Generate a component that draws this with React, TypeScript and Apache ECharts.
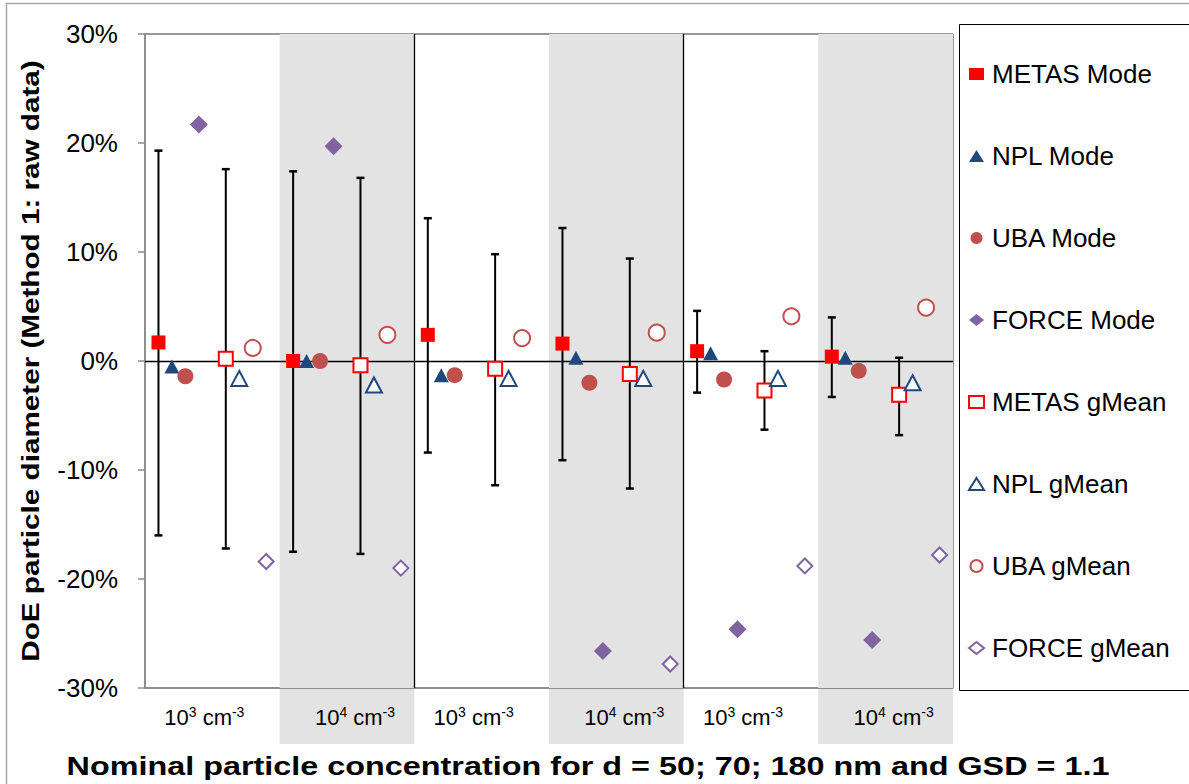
import React, { useEffect, useRef } from 'react';
import * as echarts from 'echarts';

// ---------- data ----------
const categoryExponents = ['3', '4', '3', '4', '3', '4'];
const seriesNames = [
  'METAS Mode', 'NPL Mode', 'UBA Mode', 'FORCE Mode',
  'METAS gMean', 'NPL gMean', 'UBA gMean', 'FORCE gMean',
];
// values in percent, one per category
const metasMode = [1.7, 0.0, 2.4, 1.6, 0.9, 0.4];
const metasModeLow = [-16.0, -17.5, -8.4, -9.1, -2.9, -3.3];
const metasModeHigh = [19.3, 17.4, 13.1, 12.2, 4.6, 4.0];
const nplMode = [-0.5, 0.0, -1.3, 0.3, 0.7, 0.3];
const ubaMode = [-1.4, 0.0, -1.3, -2.0, -1.7, -0.9];
const forceMode = [21.7, 19.7, null, -26.6, -24.6, -25.6];
const metasGMean = [0.2, -0.4, -0.7, -1.2, -2.7, -3.1];
const metasGMeanLow = [-17.2, -17.7, -11.4, -11.7, -6.3, -6.8];
const metasGMeanHigh = [17.6, 16.8, 9.8, 9.4, 0.9, 0.3];
const nplGMean = [-1.6, -2.2, -1.6, -1.6, -1.6, -2.0];
const ubaGMean = [1.2, 2.4, 2.1, 2.6, 4.1, 4.9];
const forceGMean = [-18.4, -19.0, null, -27.8, -18.8, -17.8];

const yMin = -30;
const yMax = 30;
const yInterval = 10;
const slotOffsets = [1, 2, 3, 4, 6, 7, 8, 9];
const categoryWidth = 10;
const groupSeparators = [20, 40];
const shadedBands = [[10, 20], [30, 40], [50, 60]];

const yTitle = 'DoE particle diameter (Method 1: raw data)';
const xTitle = 'Nominal particle concentration for d = 50; 70; 180 nm and GSD = 1.1';

// ---------- helpers ----------
function points(values: (number | null)[], slot: number) {
  const out: number[][] = [];
  values.forEach((v, i) => {
    if (v !== null && v !== undefined) out.push([i * categoryWidth + slotOffsets[slot], v]);
  });
  return out;
}
function bars(low: number[], high: number[], slot: number) {
  return low.map((l, i) => [i * categoryWidth + slotOffsets[slot], l, high[i]]);
}

const RED = '#ff0000';
const BLUE = '#1f497d';
const BROWN = '#c0504d';
const PURPLE = '#8064a2';

const FONT = '"Liberation Sans", Arial, sans-serif';

export default function App() {
  const ref = useRef<HTMLDivElement>(null);
  useEffect(() => {
    if (!ref.current) return;
    const chart = echarts.init(ref.current, undefined, { renderer: 'svg' });

    const filled = (name: string, data: number[][], symbol: string, size: any, color: string) => ({
      type: 'scatter', name, data, symbol, symbolSize: size, z: 5,
      itemStyle: { color, opacity: 1 },
    });
    const open = (name: string, data: number[][], symbol: string, size: any, color: string) => ({
      type: 'scatter', name, data, symbol, symbolSize: size, z: 5,
      itemStyle: { color: '#ffffff', borderColor: color, borderWidth: 2, opacity: 1 },
    });

    const errorRender = (params: any, api: any) => {
      const x = api.value(0);
      const lo = api.coord([x, api.value(1)]);
      const hi = api.coord([x, api.value(2)]);
      const cap = 4;
      const st = { stroke: '#000', lineWidth: 2 };
      return {
        type: 'group',
        children: [
          { type: 'line', shape: { x1: lo[0], y1: lo[1], x2: hi[0], y2: hi[1] }, style: st },
          { type: 'line', shape: { x1: lo[0] - cap, y1: lo[1], x2: lo[0] + cap, y2: lo[1] }, style: { stroke: '#000', lineWidth: 2.5 } },
          { type: 'line', shape: { x1: hi[0] - cap, y1: hi[1], x2: hi[0] + cap, y2: hi[1] }, style: { stroke: '#000', lineWidth: 2.5 } },
        ],
      };
    };

    const option: any = {
      animation: false,
      backgroundColor: '#ffffff',
      grid: {
        left: 145, top: 34, width: 808, height: 654,
        show: true, borderColor: '#333', borderWidth: 1, backgroundColor: 'transparent',
      },
      xAxis: [
        {
          type: 'value', min: 0, max: 60, interval: 10,
          axisLine: { show: true, onZero: false, lineStyle: { color: '#8c8c8c', width: 1.5 } },
          axisTick: { show: false }, axisLabel: { show: false }, splitLine: { show: false },
        },
        {
          type: 'category', position: 'bottom', data: categoryExponents,
          axisLine: { show: false }, axisTick: { show: false }, splitLine: { show: false },
          axisLabel: {
            margin: 17, interval: 0,
            formatter: (e: string, i: number) => {
              const txt = `{b|10}{s|${e}}{b| cm}{s|-3}`;
              return i % 2 === 0 ? `${txt}{p| }` : `{p| }${txt}`;
            },
            rich: {
              b: { fontFamily: FONT, fontSize: 22, color: '#000', lineHeight: 24 },
              s: { fontFamily: FONT, fontSize: 14, color: '#000', verticalAlign: 'top', lineHeight: 24 },
              p: { fontFamily: FONT, fontSize: 14, width: 16, lineHeight: 24 },
            },
          },
        },
      ],
      yAxis: {
        type: 'value', min: yMin, max: yMax, interval: yInterval,
        axisLine: { show: true, lineStyle: { color: '#8c8c8c', width: 1.5 } },
        axisTick: { show: true, inside: false, length: 7, lineStyle: { color: '#8c8c8c', width: 1.5 } },
        splitLine: { show: false },
        axisLabel: {
          margin: 27, formatter: '{value}%', fontFamily: FONT, fontSize: 26, color: '#000',
        },
      },
      legend: {
        orient: 'vertical', left: 968, top: 61, itemGap: 56,
        itemWidth: 15, itemHeight: 12, padding: 0,
        data: seriesNames,
        textStyle: { fontFamily: FONT, fontSize: 26, color: '#000', lineHeight: 26, padding: [0, 0, 0, 3] },
      },
      series: [
        {
          type: 'scatter', name: '_bands', data: [], silent: true, z: 0,
          markArea: {
            silent: true,
            itemStyle: { color: '#e3e3e3' },
            data: shadedBands.map(([a, b]) => [{ xAxis: a }, { xAxis: b }]),
          },
        },
        {
          type: 'scatter', name: '_lines', data: [], silent: true, z: 1,
          markLine: {
            silent: true, symbol: ['none', 'none'], label: { show: false },
            lineStyle: { color: '#000', width: 1.3, type: 'solid' },
            data: [
              ...groupSeparators.map((g) => ({ xAxis: g })),
              { yAxis: 0 },
            ],
          },
        },
        {
          type: 'custom', name: '_errMode', renderItem: errorRender, z: 3,
          data: bars(metasModeLow, metasModeHigh, 0), encode: { x: 0, y: [1, 2] },
        },
        {
          type: 'custom', name: '_errGMean', renderItem: errorRender, z: 3,
          data: bars(metasGMeanLow, metasGMeanHigh, 4), encode: { x: 0, y: [1, 2] },
        },
        filled(seriesNames[0], points(metasMode, 0), 'rect', 14, RED),
        filled(seriesNames[1], points(nplMode, 1), 'triangle', [15, 14], BLUE),
        filled(seriesNames[2], points(ubaMode, 2), 'circle', 16, BROWN),
        filled(seriesNames[3], points(forceMode, 3), 'diamond', [18, 18], PURPLE),
        open(seriesNames[4], points(metasGMean, 4), 'rect', 14, RED),
        open(seriesNames[5], points(nplGMean, 5), 'triangle', [16, 15], BLUE),
        open(seriesNames[6], points(ubaGMean, 6), 'circle', 16, BROWN),
        open(seriesNames[7], points(forceGMean, 7), 'diamond', [15, 15], PURPLE),
      ],
    };
    chart.setOption(option);

    const bottomY = chart.convertToPixel({ yAxisIndex: 0 }, yMin) as number;
    const graphics: any[] = [];
    shadedBands.forEach(([a, b], i) => {
      const xa = chart.convertToPixel({ xAxisIndex: 0 }, a) as number;
      const xb = chart.convertToPixel({ xAxisIndex: 0 }, b) as number;
      graphics.push({
        type: 'rect', id: 'bandExt' + i, z: -10, silent: true,
        shape: { x: xa, y: bottomY, width: xb - xa, height: 744 - bottomY },
        style: { fill: '#e3e3e3' },
      });
    });
    graphics.push({
      type: 'rect', id: 'outer', z: -20, silent: true,
      shape: { x: 6.5, y: 3.5, width: 1300, height: 900 },
      style: { fill: 'none', stroke: '#a6a6a6', lineWidth: 1.5 },
    });
    graphics.push({
      type: 'rect', id: 'legendBox', z: 10, silent: true,
      shape: { x: 959.5, y: 24.5, width: 300, height: 666 },
      style: { fill: 'none', stroke: '#000', lineWidth: 1 },
    });
    graphics.push({
      type: 'text', id: 'yTitle', z: 10, silent: true,
      x: 31, y: 361, rotation: Math.PI / 2, scaleX: 1.29,
      style: {
        text: yTitle, font: `bold 23px ${FONT}`, fill: '#000',
        align: 'center', verticalAlign: 'middle',
      },
    });
    graphics.push({
      type: 'text', id: 'xTitle', z: 10, silent: true,
      x: 588, y: 766, scaleX: 1.245,
      style: {
        text: xTitle, font: `bold 26px ${FONT}`, fill: '#000',
        align: 'center', verticalAlign: 'middle',
      },
    });
    chart.setOption({ graphic: graphics });

    return () => chart.dispose();
  }, []);
  return (
    <div
      ref={ref}
      style={{ position: 'fixed', left: 0, top: 0, width: 1189, height: 784, background: '#fff' }}
    />
  );
}
